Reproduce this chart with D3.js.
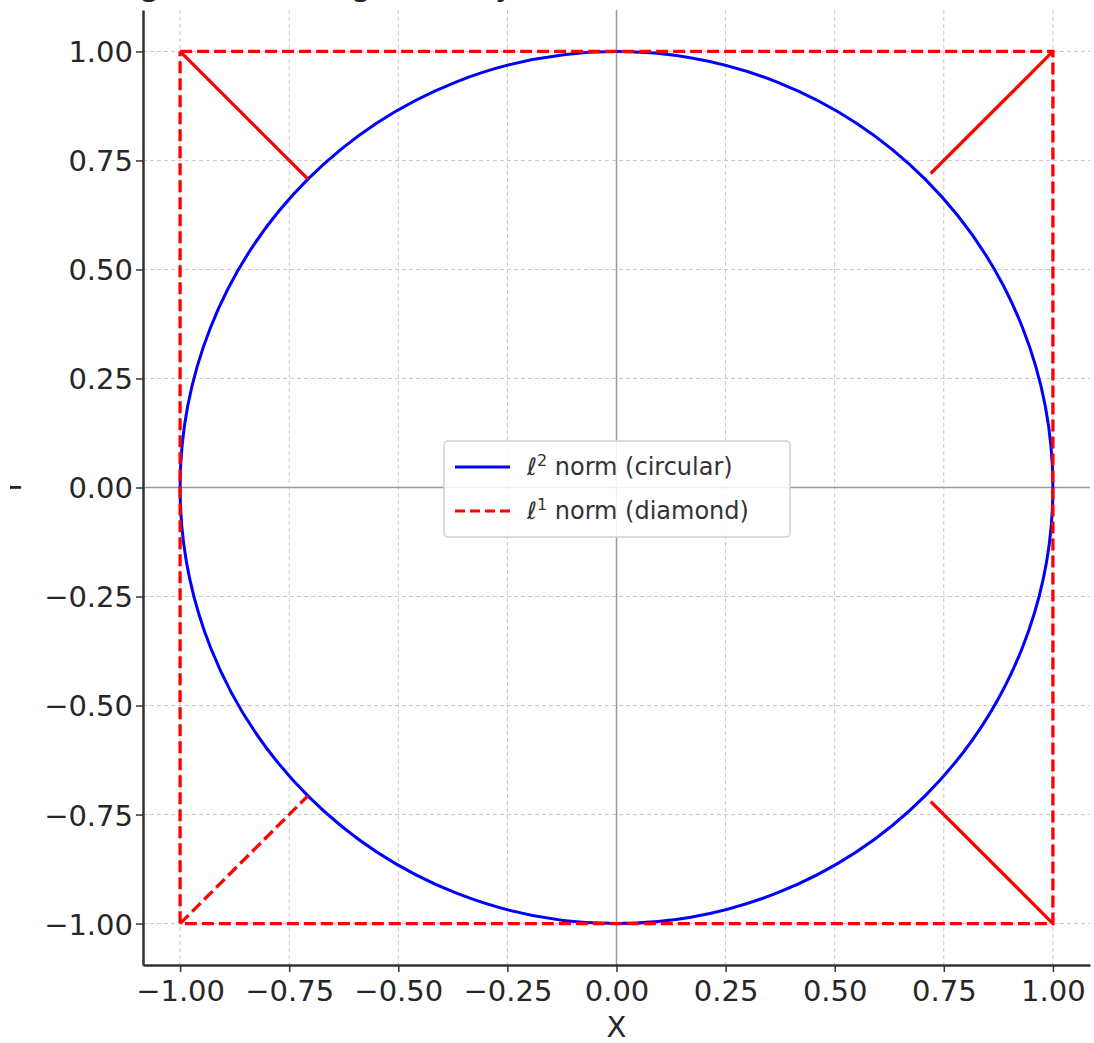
<!DOCTYPE html>
<html>
<head>
<meta charset="utf-8">
<script src="https://cdn.jsdelivr.net/npm/d3@7"></script>
<style>
  body { margin: 0; background: #fff; }
  svg { display: block; font-family: "DejaVu Sans", sans-serif; }
</style>
</head>
<body>
<div id="chart"></div>
<script>
// Data
var tickValues = [-1.00, -0.75, -0.50, -0.25, 0.00, 0.25, 0.50, 0.75, 1.00];
var circleRadius = [1];                        // l2 unit ball
var squareCorners = [[-1, 1], [1, 1], [1, -1], [-1, -1], [-1, 1]];  // l1 "diamond" outline
// corner spokes: [x1, y1, x2, y2, dashed]
var spokes = [
    [-1, 1, -0.707, 0.707, false],
    [1, 1, 0.72, 0.72, false],
    [1, -1, 0.72, -0.72, false],
    [-1, -1, -0.707, -0.707, true]
];
var legendLabels = [
    { sup: "2", text: " norm (circular)", color: "#0000ff", dash: null },
    { sup: "1", text: " norm (diamond)", color: "#ff0000", dash: "10,5" }
];

var width = 1094, height = 1043;

var svg = d3.select("#chart").append("svg")
    .attr("width", width)
    .attr("height", height);

var x = d3.scaleLinear().domain([-1.085, 1.085]).range([143, 1090]);
var y = d3.scaleLinear().domain([-1.095, 1.095]).range([965, 10]);

// Grid
svg.append("g").selectAll("line")
    .data(tickValues)
    .enter().append("line")
    .attr("x1", function (d) { return x(d); })
    .attr("x2", function (d) { return x(d); })
    .attr("y1", y.range()[1])
    .attr("y2", y.range()[0])
    .attr("stroke", "#c8c8c8")
    .attr("stroke-width", 1)
    .attr("stroke-dasharray", "4,3");

svg.append("g").selectAll("line")
    .data(tickValues)
    .enter().append("line")
    .attr("y1", function (d) { return y(d); })
    .attr("y2", function (d) { return y(d); })
    .attr("x1", x.range()[0])
    .attr("x2", x.range()[1])
    .attr("stroke", "#c8c8c8")
    .attr("stroke-width", 1)
    .attr("stroke-dasharray", "4,3");

// zero lines
svg.append("line")
    .attr("x1", x(0)).attr("x2", x(0))
    .attr("y1", y.range()[1]).attr("y2", y.range()[0])
    .attr("stroke", "#9a9a9a").attr("stroke-width", 1.5);
svg.append("line")
    .attr("y1", y(0)).attr("y2", y(0))
    .attr("x1", x.range()[0]).attr("x2", x.range()[1])
    .attr("stroke", "#9a9a9a").attr("stroke-width", 1.5);

// Circle (l2)
svg.selectAll("ellipse.l2")
    .data(circleRadius)
    .enter().append("ellipse")
    .attr("class", "l2")
    .attr("cx", x(0))
    .attr("cy", y(0))
    .attr("rx", function (d) { return x(d) - x(0); })
    .attr("ry", function (d) { return y(0) - y(d); })
    .attr("fill", "none")
    .attr("stroke", "#0000ff")
    .attr("stroke-width", 3);

// Square (l1)
var line = d3.line()
    .x(function (d) { return x(d[0]); })
    .y(function (d) { return y(d[1]); });

svg.append("path")
    .datum(squareCorners)
    .attr("d", line)
    .attr("fill", "none")
    .attr("stroke", "#ff0000")
    .attr("stroke-width", 3.3)
    .attr("stroke-dasharray", "12,5");

svg.append("g").selectAll("line")
    .data(spokes)
    .enter().append("line")
    .attr("x1", function (d) { return x(d[0]); })
    .attr("y1", function (d) { return y(d[1]); })
    .attr("x2", function (d) { return x(d[2]); })
    .attr("y2", function (d) { return y(d[3]); })
    .attr("stroke", "#ff0000")
    .attr("stroke-width", 3.3)
    .attr("stroke-dasharray", function (d) { return d[4] ? "12,5" : null; });

// Axes
var fmt = function (d) { return d3.format(".2f")(d).replace("-", "\u2212"); };

var xAxis = svg.append("g")
    .attr("transform", "translate(0," + y.range()[0] + ")")
    .call(d3.axisBottom(x).tickValues(tickValues).tickFormat(fmt).tickSize(7).tickSizeOuter(0));
var yAxis = svg.append("g")
    .attr("transform", "translate(" + x.range()[0] + ",0)")
    .call(d3.axisLeft(y).tickValues(tickValues).tickFormat(fmt).tickSize(7).tickSizeOuter(0));

[xAxis, yAxis].forEach(function (a) {
    a.select(".domain").attr("stroke", "#333").attr("stroke-width", 2.5);
    a.selectAll(".tick line").attr("stroke", "#333").attr("stroke-width", 1.5);
    a.selectAll(".tick text")
        .attr("fill", "#262626")
        .style("font-size", "29px")
        .style("font-family", "DejaVu Sans");
});
xAxis.selectAll(".tick text").attr("dy", null).attr("y", 36);
yAxis.selectAll(".tick text").attr("x", -10).attr("dy", "0.36em");

// Axis labels
svg.append("text")
    .attr("x", x(0))
    .attr("y", 1037)
    .attr("text-anchor", "middle")
    .attr("fill", "#262626")
    .style("font-size", "29px")
    .text("X");

svg.append("clipPath").attr("id", "ylabclip")
    .append("rect").attr("x", 10).attr("y", 0).attr("width", 40).attr("height", height);
svg.append("g").attr("clip-path", "url(#ylabclip)")
    .append("text")
    .attr("transform", "translate(21," + y(0) + ") rotate(-90)")
    .attr("text-anchor", "middle")
    .attr("fill", "#262626")
    .style("font-size", "29px")
    .text("Y");

// Title (cut off at the top)
svg.append("text")
    .attr("x", 96)
    .attr("y", -5)
    .attr("fill", "#262626")
    .style("font-size", "34px")
    .text("Regularization geometry: \u2113\u00b2 circle vs \u2113\u00b9 diamond unit balls");

// Legend
var legend = svg.append("g");
legend.append("rect")
    .attr("x", 444).attr("y", 441)
    .attr("width", 346).attr("height", 96)
    .attr("rx", 4)
    .attr("fill", "#fff").attr("fill-opacity", 0.85)
    .attr("stroke", "#d0d0d0").attr("stroke-width", 1.5);

var items = legend.selectAll("g.item")
    .data(legendLabels)
    .enter().append("g")
    .attr("class", "item")
    .attr("transform", function (d, i) { return "translate(0," + (i * 44) + ")"; });

items.append("line")
    .attr("x1", 455).attr("x2", 510)
    .attr("y1", 467).attr("y2", 467)
    .attr("stroke", function (d) { return d.color; })
    .attr("stroke-width", 3)
    .attr("stroke-dasharray", function (d) { return d.dash; });

var lt = items.append("text")
    .attr("x", 527)
    .attr("y", 475)
    .attr("fill", "#333")
    .style("font-size", "24px");
lt.append("tspan").style("font-style", "italic").text("\u2113");
lt.append("tspan").attr("dy", -9).style("font-size", "16px").text(function (d) { return d.sup; });
lt.append("tspan").attr("dy", 9).text(function (d) { return d.text; });
</script>
</body>
</html>
